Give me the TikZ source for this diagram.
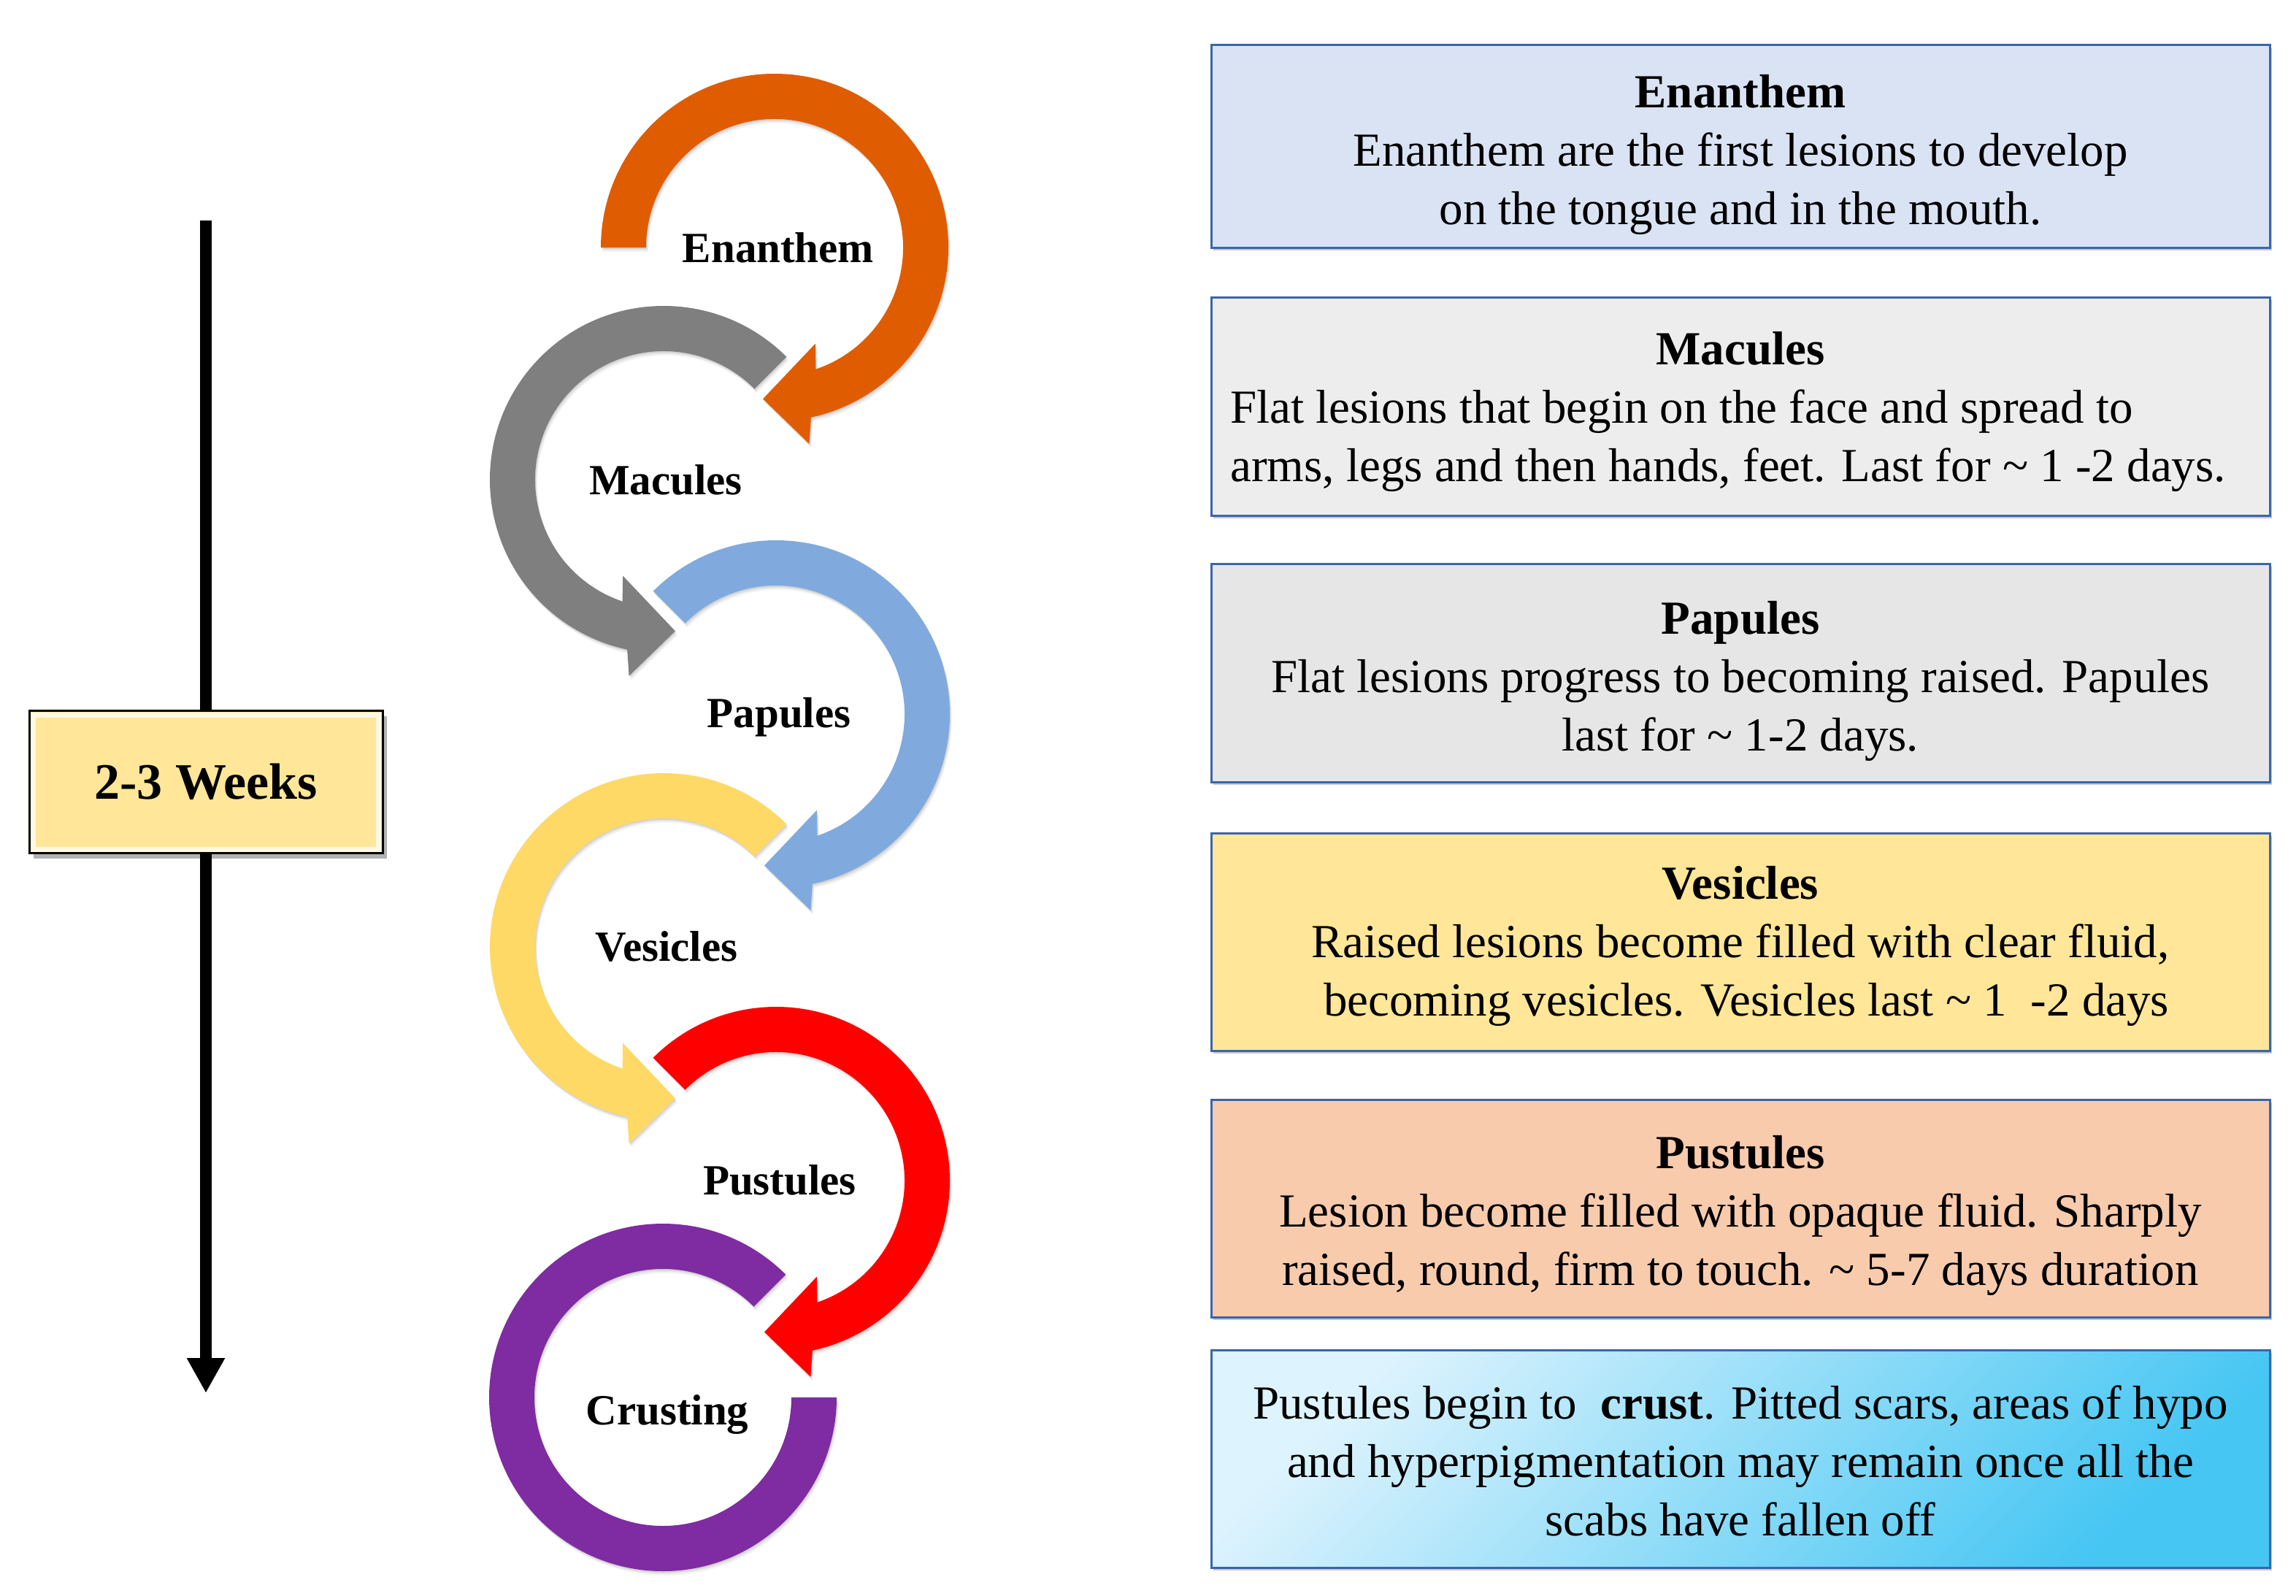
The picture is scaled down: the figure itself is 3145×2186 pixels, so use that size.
\documentclass[tikz,border=0pt]{standalone}
\usepackage{fontspec}
\setmainfont{Liberation Serif}
\usetikzlibrary{arrows.meta,shadows}
\definecolor{cOrange}{HTML}{E05C00}
\definecolor{cGray}{HTML}{7F7F7F}
\definecolor{cBlue}{HTML}{80AADE}
\definecolor{cYellow}{HTML}{FFD966}
\definecolor{cRed}{HTML}{FF0000}
\definecolor{cPurple}{HTML}{7F2BA1}
\definecolor{cBorder}{HTML}{3A66AA}
\definecolor{fEnan}{HTML}{DAE3F3}
\definecolor{fMac}{HTML}{EDEDED}
\definecolor{fPap}{HTML}{E6E6E6}
\definecolor{fVes}{HTML}{FFE699}
\definecolor{fPus}{HTML}{F8CBAD}
\definecolor{fCrL}{HTML}{DDF3FD}
\definecolor{fCrM}{HTML}{A6E0F8}
\definecolor{fCrD}{HTML}{45C6F3}
\definecolor{fWeeks}{HTML}{FFE699}

% clockwise circular arrow, starting at angle #1 (math orientation)
\newcommand\cwshape[2]{\fill[#2] (#1:238) arc[start angle=#1, end angle=-77.9, radius=238] -- (-80:273) -- (-94.4:208) -- (-67:143) -- (-71.3:176) arc[start angle=-71.3, end angle=#1, radius=176] -- cycle;}
% open ring without head
\newcommand\ringshape[1]{\fill[#1] (45:238) arc[start angle=45, end angle=360, radius=238] -- (0:176) arc[start angle=360, end angle=45, radius=176] -- cycle;}

\newcommand\ringarrow[4]{%
 \begin{scope}[shift={#1}]
  \foreach \sa/\op in {6/0.04,4/0.06,2/0.08}{%
   \begin{scope}[shift={(\sa*0.5,\sa)}, yscale=-1, xscale=#2]\cwshape{#3}{black,opacity=\op}\end{scope}}
  \begin{scope}[yscale=-1, xscale=#2]\cwshape{#3}{#4}\end{scope}
 \end{scope}}

\newcommand\openring[2]{%
 \begin{scope}[shift={#1}]
  \foreach \sa/\op in {6/0.04,4/0.06,2/0.08}{%
   \begin{scope}[shift={(\sa*0.5,\sa)}, yscale=-1]\ringshape{black,opacity=\op}\end{scope}}
  \begin{scope}[yscale=-1]\ringshape{#2}\end{scope}
 \end{scope}}

\begin{document}
\begin{tikzpicture}[x=1pt,y=-1pt,
  infobox/.style={draw=cBorder, line width=3, minimum width=1450, minimum height=#1, inner sep=0,
     drop shadow={shadow xshift=3pt, shadow yshift=-4pt, opacity=.22, fill=black}},
  boxtext/.style={inner sep=0, align=center, font=\fontsize{65}{80}\selectfont},
  lbl/.style={anchor=base, inner sep=0, font=\fontsize{59}{70}\selectfont\bfseries},
  weeksbox/.style={draw=black, line width=3, fill=fWeeks, minimum width=484, minimum height=195, inner sep=0,
     font=\fontsize{70}{84}\selectfont\bfseries,
     drop shadow={shadow xshift=6pt, shadow yshift=-7pt, opacity=.3, fill=black}}]

\path[use as bounding box, fill=white] (0,0) rectangle (3145,2186);

% ---------- time axis ----------
\coordinate (atop) at (282,302);
\coordinate (abot) at (282,1908);
\draw[line width=16, -{Triangle[width=49pt,length=48pt]}] (atop) -- (abot);
\node[weeksbox] (weeks) at (282,1071) {2-3 Weeks};
\draw[white, line width=7, opacity=.75] ([shift={(7,7)}]weeks.north west) rectangle ([shift={(-7,-7)}]weeks.south east);

% ---------- circular arrows ----------
\ringarrow{(1061,339)}{1}{180}{cOrange}
\ringarrow{(909,657)}{-1}{135}{cGray}
\ringarrow{(1063,978)}{1}{135}{cBlue}
\ringarrow{(909,1297)}{-1}{135}{cYellow}
\ringarrow{(1063,1617)}{1}{135}{cRed}
\openring{(908,1914)}{cPurple}

\node[lbl] (lEnan) at (1066,359) {Enanthem};
\node[lbl] (lMac) at (912,677) {Macules};
\node[lbl] (lPap) at (1067,996) {Papules};
\node[lbl] (lVes) at (913,1316) {Vesicles};
\node[lbl] (lPus) at (1068,1636) {Pustules};
\node[lbl] (lCru) at (914,1951) {Crusting};

% ---------- description boxes ----------
\node[infobox=277, fill=fEnan] (b1) at (2384,200.5) {};
\node[boxtext] (t1) at (2384,211) {\strut\textbf{Enanthem}\\Enanthem are the first lesions to develop\\on the tongue and in the mouth.\strut};

\node[infobox=299, fill=fMac] (b2) at (2384,556.5) {};
\node[boxtext, anchor=base] (t2h) at (2384,499) {\textbf{Macules}};
\node[boxtext, align=left, anchor=north west] (t2) at (1685,523) {\strut Flat lesions that begin on the face and spread to\\arms, legs and then hands, feet. Last for \textasciitilde{} 1 -2 days.\strut};

\node[infobox=299, fill=fPap] (b3) at (2384,921.5) {};
\node[boxtext] (t3) at (2384,932) {\strut\textbf{Papules}\\Flat lesions progress to becoming raised. Papules\\last for \textasciitilde{} 1-2 days.\strut};

\node[infobox=298, fill=fVes] (b4) at (2384,1290) {};
\node[boxtext] (t4) at (2384,1295) {\strut\textbf{Vesicles}\\Raised lesions become filled with clear fluid,\\\ becoming vesicles. Vesicles last \textasciitilde{} 1\ \ -2 days\strut};

\node[infobox=298, fill=fPus] (b5) at (2384,1655) {};
\node[boxtext] (t5) at (2384,1664) {\strut\textbf{Pustules}\\Lesion become filled with opaque fluid. Sharply\\raised, round, firm to touch. \textasciitilde{} 5-7 days duration\strut};

\node[infobox=298, top color=fCrL, middle color=fCrM, bottom color=fCrD, shading angle=45] (b6) at (2384,1998) {};
\node[boxtext] (t6) at (2384,2007) {\strut Pustules begin to \ \textbf{crust}. Pitted scars, areas of hypo\\and hyperpigmentation may remain once all the\\scabs have fallen off\strut};

\end{tikzpicture}
\end{document}
